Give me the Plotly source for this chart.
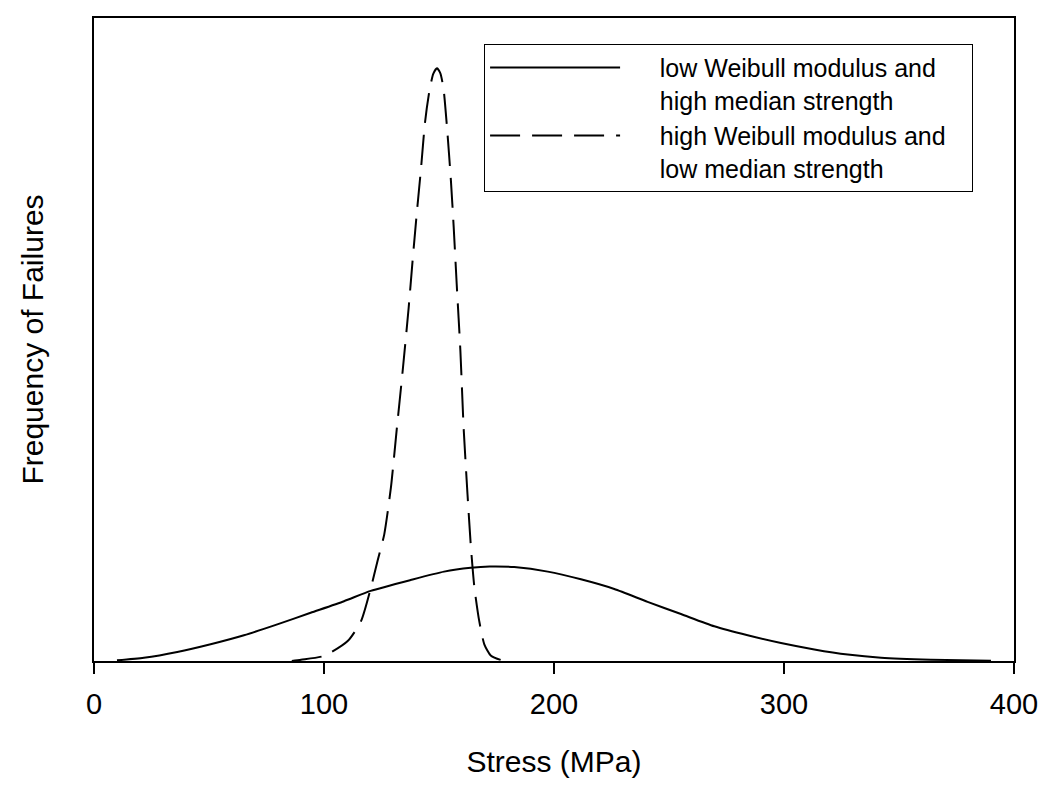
import plotly.graph_objects as go

# low Weibull modulus / high median strength (solid)
low_m_stress = [10, 21.7, 36.2, 50.7, 65.2, 79.7, 94.2, 108.7, 120.3, 137.7, 152.2, 163.8,
                172, 182.7, 197.3, 211.7, 226.2, 240.7, 255.2, 269.7, 284.2, 298.7, 313.2,
                327.7, 342.2, 363.9, 390]
low_m_freq = [0.1, 0.5, 1.4, 2.6, 4.0, 5.7, 7.5, 9.3, 10.9, 12.6, 13.9, 14.5,
              14.7, 14.6, 13.9, 12.7, 11.2, 9.2, 7.3, 5.4, 4.0, 2.8, 1.8,
              1.0, 0.5, 0.2, 0.05]

# high Weibull modulus / low median strength (dashed)
high_m_stress = [86, 90, 100.1, 110.3, 116.1, 120.4, 123.3, 126.2, 129.1, 131.7, 134.2, 136.8,
                 138.5, 140.3, 142.2, 143.9, 145.8, 147.5, 149.1, 150.6, 152, 153.5, 155.2,
                 156.4, 157.7, 159.3, 160.7, 162.4, 163.9, 165.4, 167.5, 169.7, 172.6, 177, 180]
high_m_freq = [0, 0.2, 0.8, 3.1, 6.2, 11.4, 15.6, 19.7, 27.0, 36.3, 45.1, 54.9,
               62.2, 69.5, 76.7, 83.7, 88.6, 91.3, 92.2, 91.4, 88.9, 82.9, 74.6,
               67.4, 58.6, 48.2, 36.3, 25.9, 17.6, 11.4, 6.2, 2.6, 0.8, 0.15, 0]

x_ticks = [0, 100, 200, 300, 400]

font = "Liberation Sans, Arial, sans-serif"
pad = "     "
tail = "   "

fig = go.Figure()
fig.add_trace(go.Scatter(
    x=low_m_stress, y=low_m_freq, mode="lines",
    name=pad + "low Weibull modulus and" + tail + "<br>" + pad + "high median strength",
    line=dict(color="black", width=2, shape="spline", smoothing=0.6),
))
fig.add_trace(go.Scatter(
    x=high_m_stress, y=high_m_freq, mode="lines",
    name=pad + "high Weibull modulus and" + tail + "<br>" + pad + "low median strength",
    line=dict(color="black", width=2, dash="30px,12px", shape="spline", smoothing=0.6),
))

fig.update_layout(
    width=1050, height=792,
    margin=dict(l=86, r=44, t=10, b=139),
    paper_bgcolor="white", plot_bgcolor="white",
    font=dict(family=font, color="black"),
    legend=dict(
        x=0.424, y=0.96, xanchor="left", yanchor="top",
        bordercolor="black", borderwidth=1, bgcolor="white",
        font=dict(size=25, family=font), itemwidth=130,
        tracegroupgap=0, valign="top",
    ),
    showlegend=True,
)
fig.update_xaxes(
    range=[0, 400], tickvals=x_ticks, ticks="outside", ticklen=11, tickwidth=2,
    tickcolor="black", tickfont=dict(size=29), ticklabelstandoff=5,
    showgrid=False, zeroline=False, automargin=False,
    showline=True, linecolor="black", linewidth=2, mirror=True,
    title=dict(text="Stress (MPa)", font=dict(size=30), standoff=32),
)
fig.update_yaxes(
    range=[0, 100], showticklabels=False, ticks="", showgrid=False, zeroline=False,
    automargin=False,
    showline=True, linecolor="black", linewidth=2, mirror=True,
    title=dict(text="Frequency of Failures", font=dict(size=30), standoff=40),
)

fig.write_html("out.html")
